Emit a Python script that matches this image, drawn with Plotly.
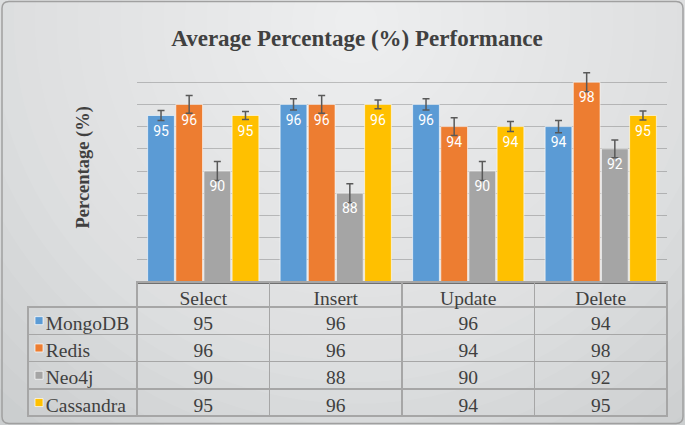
import plotly.graph_objects as go

operations = ['Select', 'Insert', 'Update', 'Delete']
databases = ['MongoDB', 'Redis', 'Neo4j', 'Cassandra']
mongodb = [95, 96, 96, 94]
redis = [96, 96, 94, 98]
neo4j = [90, 88, 90, 92]
cassandra = [95, 96, 94, 95]
mongodb_err = [0.45, 0.5, 0.5, 0.55]
redis_err = [0.8, 0.8, 0.8, 0.85]
neo4j_err = [0.85, 0.85, 0.85, 0.8]
cassandra_err = [0.35, 0.4, 0.45, 0.4]

series = [mongodb, redis, neo4j, cassandra]
errors = [mongodb_err, redis_err, neo4j_err, cassandra_err]
colors = ['#5b9bd5', '#ed7d31', '#a5a5a5', '#ffc000']

W, H = 685, 425
ROW_H = 27.3
HEAD_H = 25
TABLE_TOP = 282
SERIF = 'Liberation Serif'


def fx(p):
    return p / W


def fy(p):
    return 1 - p / H


fig = go.Figure()

# bars with error bars
for name, vals, err, col in zip(databases, series, errors, colors):
    fig.add_trace(go.Bar(x=operations, y=vals, name=name,
                         marker=dict(color=col, line=dict(color='rgba(255,255,255,0.6)', width=1)),
                         error_y=dict(type='data', array=err, color='#595959', thickness=1.5, width=3.5),
                         showlegend=False, hoverinfo='skip'))

# value labels just under the bar tops
for name, vals in zip(databases, series):
    fig.add_trace(go.Scatter(x=operations, y=vals, mode='markers+text', text=[str(v) for v in vals],
                             textposition='bottom center',
                             textfont=dict(family='Roboto', size=14, color='white'),
                             marker=dict(size=14, color='rgba(0,0,0,0)'),
                             showlegend=False, hoverinfo='skip'))

# data table under the chart
first_col = ['\u00a0\u00a0' + n for n in databases]
cols = [first_col] + [[s[i] for s in series] for i in range(len(operations))]
table_font = dict(family=[SERIF] * 5, size=[19.5] * 5, color=['#404040'] * 5)

fig.add_trace(go.Table(
    domain=dict(x=[fx(28), fx(667)], y=[0.0, fy(TABLE_TOP)]),
    columnwidth=[109, 132.5, 132.5, 132.5, 132.5],
    header=dict(values=[''] + operations,
                fill=dict(color='rgba(0,0,0,0)'),
                line=dict(color=['rgba(0,0,0,0)'] + ['#a6a6a6'] * 4, width=1.5),
                align='center', height=HEAD_H,
                font=table_font),
    cells=dict(values=cols,
               fill=dict(color='rgba(0,0,0,0)'),
               line=dict(color='#a6a6a6', width=1.5),
               align=['left', 'center', 'center', 'center', 'center'], height=ROW_H,
               font=table_font)
))

# soft radial highlight for the background
shapes = []
n = 24
for i in range(n):
    k = 1 - i / n
    shapes.append(dict(type='circle', xref='paper', yref='paper', layer='below',
                       x0=0.52 - 0.75 * k, x1=0.52 + 0.75 * k,
                       y0=0.95 - 1.2 * k, y1=0.95 + 1.2 * k,
                       fillcolor='rgba(255,255,255,0.06)', line=dict(width=0)))

# legend swatches in the table's first column
for i, col in enumerate(colors):
    yc = TABLE_TOP + HEAD_H + ROW_H * (i + 0.5)
    shapes.append(dict(type='rect', xref='paper', yref='paper', layer='above',
                       x0=fx(35), x1=fx(43), y0=fy(yc + 4), y1=fy(yc - 4),
                       fillcolor=col, line=dict(color='rgba(255,255,255,0.7)', width=1)))

# rounded outer frame
l, r, t, b, rad = 2, 683, 1.5, 423.5, 7
frame = (f"M{fx(l + rad)},{fy(t)} L{fx(r - rad)},{fy(t)} Q{fx(r)},{fy(t)} {fx(r)},{fy(t + rad)} "
         f"L{fx(r)},{fy(b - rad)} Q{fx(r)},{fy(b)} {fx(r - rad)},{fy(b)} "
         f"L{fx(l + rad)},{fy(b)} Q{fx(l)},{fy(b)} {fx(l)},{fy(b - rad)} "
         f"L{fx(l)},{fy(t + rad)} Q{fx(l)},{fy(t)} {fx(l + rad)},{fy(t)} Z")
shapes.append(dict(type='path', xref='paper', yref='paper', layer='above', path=frame,
                   line=dict(color='#a0a0a0', width=1.5)))

fig.update_layout(
    width=W, height=H,
    margin=dict(l=0, r=0, t=0, b=0),
    font=dict(family=SERIF),
    paper_bgcolor='#cbcecf',
    plot_bgcolor='rgba(0,0,0,0)',
    barmode='group', bargap=0.15, bargroupgap=0.05,
    scattermode='group', scattergap=0.15,
    shapes=shapes,
    title=dict(text='<b>Average Percentage (%) Performance</b>',
               x=fx(357), xanchor='center', y=fy(38), yanchor='middle',
               font=dict(family=SERIF, size=23, color='#404040')),
    annotations=[dict(text='<b>Percentage (%)</b>', xref='paper', yref='paper',
                      x=fx(70), y=fy(168), textangle=-90, showarrow=False,
                      font=dict(family=SERIF, size=18.5, color='#404040'))],
    xaxis=dict(domain=[fx(137), fx(667)], showticklabels=False, showgrid=False,
               showline=True, linecolor='#6f6f6f', linewidth=2),
    yaxis=dict(domain=[fy(282), fy(60)], range=[80, 100], dtick=2, showticklabels=False,
               showgrid=True, gridcolor='rgba(0,0,0,0.2)', gridwidth=1.2,
               zeroline=False, showline=False),
)

fig.write_html("out.html", config={'displayModeBar': False},
               post_script="document.body.style.margin='0';")
